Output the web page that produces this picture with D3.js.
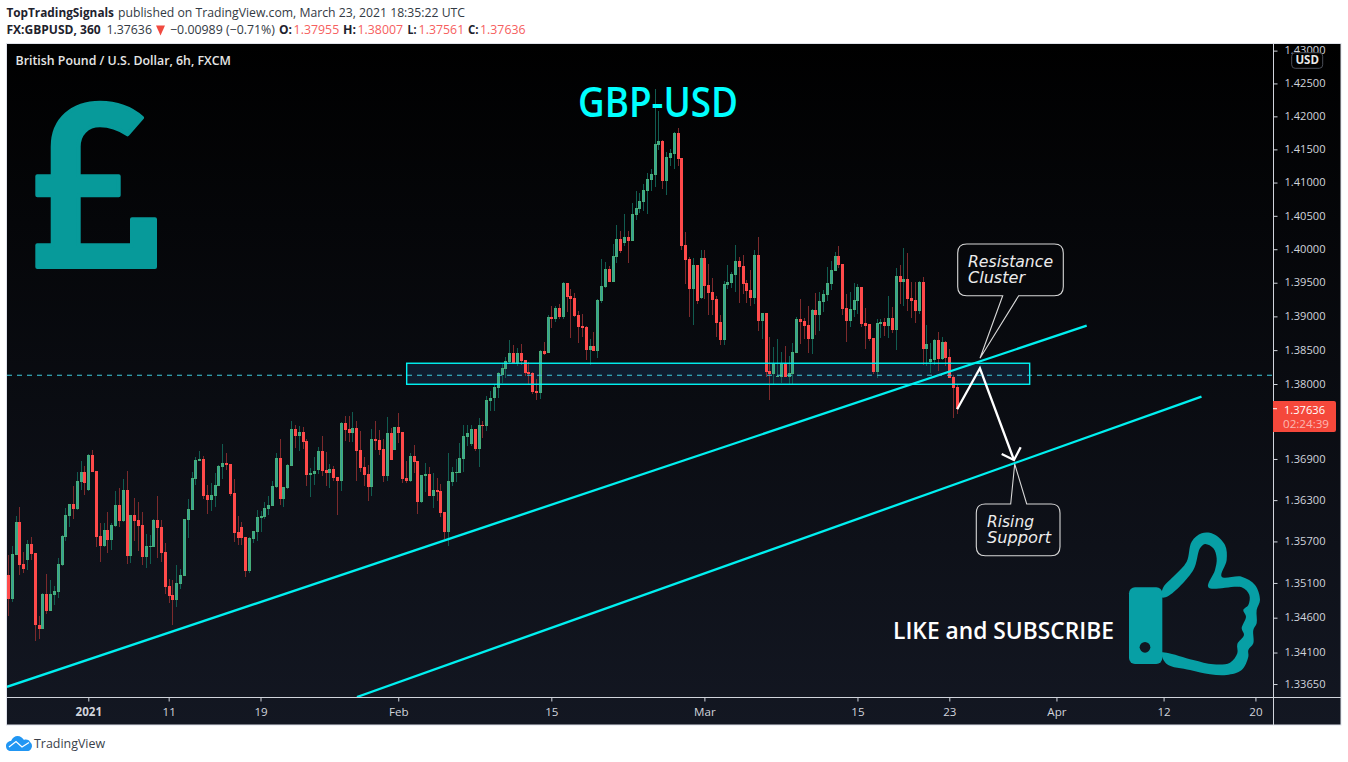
<!DOCTYPE html>
<html><head><meta charset="utf-8">
<script src="https://cdn.jsdelivr.net/npm/d3@7"></script>
<style>html,body{margin:0;padding:0;background:#fff;overflow:hidden}svg{display:block}text{font-family:"Open Sans",sans-serif}</style>
</head><body><div id="c"></div>
<script>
const opens=[1.3521,1.3487,1.3550,1.3598,1.3537,1.3543,1.3566,1.3553,1.3450,1.3444,
1.3494,1.3470,1.3492,1.3497,1.3536,1.3576,1.3607,1.3624,1.3617,1.3656,
1.3671,1.3645,1.3696,1.3672,1.3578,1.3563,1.3587,1.3572,1.3592,1.3623,
1.3600,1.3645,1.3549,1.3608,1.3601,1.3594,1.3547,1.3562,1.3562,1.3601,
1.3591,1.3555,1.3505,1.3492,1.3485,1.3508,1.3520,1.3601,1.3616,1.3661,
1.3687,1.3690,1.3637,1.3630,1.3636,1.3650,1.3678,1.3684,1.3682,1.3640,
1.3584,1.3591,1.3576,1.3527,1.3574,1.3584,1.3604,1.3606,1.3617,1.3621,
1.3649,1.3691,1.3632,1.3648,1.3680,1.3734,1.3724,1.3729,1.3716,1.3667,
1.3668,1.3674,1.3702,1.3674,1.3669,1.3675,1.3664,1.3658,1.3743,1.3734,
1.3728,1.3735,1.3703,1.3678,1.3668,1.3649,1.3719,1.3718,1.3705,1.3665,
1.3728,1.3703,1.3737,1.3729,1.3662,1.3658,1.3694,1.3687,1.3627,1.3665,
1.3668,1.3636,1.3645,1.3643,1.3612,1.3583,1.3656,1.3669,1.3669,1.3690,
1.3722,1.3712,1.3734,1.3705,1.3740,1.3738,1.3775,1.3779,1.3794,1.3814,
1.3822,1.3833,1.3846,1.3830,1.3846,1.3835,1.3818,1.3816,1.3790,1.3787,
1.3849,1.3846,1.3899,1.3896,1.3913,1.3899,1.3950,1.3930,1.3927,1.3902,
1.3886,1.3884,1.3850,1.3856,1.3849,1.3923,1.3944,1.3971,1.3951,1.3988,
1.4015,1.4009,1.4018,1.4012,1.4051,1.4060,1.4071,1.4087,1.4104,1.4111,
1.4157,1.4163,1.4102,1.4137,1.4143,1.4175,1.4137,1.4006,1.3985,1.3941,
1.3977,1.3927,1.3987,1.3947,1.3936,1.3926,1.3892,1.3865,1.3947,1.3950,
1.3962,1.3982,1.3975,1.3950,1.3939,1.3927,1.3991,1.3893,1.3905,1.3819,
1.3815,1.3810,1.3810,1.3830,1.3810,1.3815,1.3846,1.3896,1.3893,1.3887,
1.3867,1.3910,1.3902,1.3922,1.3932,1.3948,1.3968,1.3990,1.3978,1.3913,
1.3893,1.3910,1.3923,1.3944,1.3890,1.3889,1.3868,1.3818,1.3889,1.3892,
1.3886,1.3898,1.3880,1.3960,1.3951,1.3956,1.3927,1.3924,1.3908,1.3951,
1.3852,1.3833,1.3836,1.3865,1.3837,1.3862,1.3840,1.3810,1.37955];
const highs=[1.3550,1.3563,1.3607,1.3620,1.3555,1.3572,1.3576,1.3553,1.3463,1.3495,
1.3523,1.3514,1.3505,1.3546,1.3579,1.3619,1.3624,1.3651,1.3671,1.3687,
1.3680,1.3697,1.3703,1.3672,1.3597,1.3597,1.3613,1.3597,1.3643,1.3648,
1.3661,1.3672,1.3608,1.3633,1.3627,1.3613,1.3581,1.3579,1.3603,1.3636,
1.3601,1.3568,1.3516,1.3514,1.3536,1.3530,1.3603,1.3632,1.3671,1.3693,
1.3701,1.3694,1.3652,1.3655,1.3669,1.3681,1.3712,1.3698,1.3682,1.3661,
1.3607,1.3598,1.3576,1.3576,1.3585,1.3616,1.3614,1.3627,1.3636,1.3658,
1.3698,1.3719,1.3649,1.3682,1.3745,1.3740,1.3738,1.3737,1.3719,1.3677,
1.3693,1.3707,1.3724,1.3700,1.3683,1.3680,1.3664,1.3744,1.3753,1.3753,
1.3759,1.3745,1.3731,1.3693,1.3681,1.3734,1.3745,1.3732,1.3719,1.3751,
1.3735,1.3737,1.3757,1.3729,1.3687,1.3699,1.3710,1.3687,1.3667,1.3684,
1.3678,1.3669,1.3662,1.3653,1.3612,1.3699,1.3678,1.3690,1.3713,1.3740,
1.3740,1.3740,1.3734,1.3750,1.3745,1.3783,1.3789,1.3799,1.3817,1.3829,
1.3840,1.3865,1.3858,1.3853,1.3859,1.3835,1.3833,1.3818,1.3807,1.3850,
1.3862,1.3902,1.3915,1.3916,1.3918,1.3951,1.3950,1.3941,1.3935,1.3908,
1.3904,1.3886,1.3867,1.3877,1.3926,1.3985,1.3981,1.3975,1.4008,1.4036,
1.4027,1.4053,1.4027,1.4069,1.4087,1.4084,1.4098,1.4114,1.4120,1.4241,
1.4208,1.4164,1.4146,1.4151,1.4176,1.4182,1.4137,1.4026,1.3988,1.3987,
1.3977,1.3999,1.3999,1.3978,1.3957,1.3930,1.3902,1.3953,1.3977,1.3966,
1.4006,1.3988,1.3991,1.3954,1.3969,1.3999,1.4018,1.3905,1.3905,1.3870,
1.3855,1.3867,1.3847,1.3856,1.3841,1.3861,1.3899,1.3926,1.3898,1.3916,
1.3911,1.3935,1.3936,1.3939,1.3974,1.3983,1.3996,1.4005,1.3978,1.3933,
1.3936,1.3950,1.3948,1.3944,1.3913,1.3889,1.3868,1.3896,1.3896,1.3898,
1.3930,1.3914,1.3972,1.3977,1.4002,1.3994,1.3951,1.3951,1.3953,1.3959,
1.3887,1.3861,1.3867,1.3877,1.3870,1.3864,1.3852,1.3813,1.38007];
const lows=[1.3463,1.3482,1.3550,1.3521,1.3524,1.3529,1.3543,1.3427,1.3430,1.3444,
1.3466,1.3469,1.3478,1.3489,1.3534,1.3571,1.3591,1.3603,1.3616,1.3645,
1.3637,1.3643,1.3671,1.3562,1.3540,1.3562,1.3553,1.3558,1.3591,1.3591,
1.3598,1.3537,1.3539,1.3571,1.3556,1.3536,1.3531,1.3537,1.3562,1.3546,
1.3540,1.3494,1.3481,1.3449,1.3476,1.3501,1.3520,1.3575,1.3616,1.3652,
1.3687,1.3632,1.3610,1.3614,1.3620,1.3650,1.3661,1.3674,1.3636,1.3569,
1.3565,1.3565,1.3518,1.3524,1.3568,1.3571,1.3584,1.3603,1.3608,1.3621,
1.3648,1.3623,1.3620,1.3646,1.3680,1.3706,1.3702,1.3705,1.3650,1.3634,
1.3652,1.3668,1.3665,1.3650,1.3648,1.3658,1.3608,1.3643,1.3716,1.3715,
1.3715,1.3658,1.3671,1.3650,1.3629,1.3636,1.3703,1.3696,1.3656,1.3658,
1.3688,1.3703,1.3713,1.3655,1.3655,1.3656,1.3669,1.3610,1.3626,1.3642,
1.3636,1.3618,1.3629,1.3605,1.3573,1.3564,1.3650,1.3656,1.3669,1.3671,
1.3709,1.3709,1.3702,1.3678,1.3721,1.3731,1.3760,1.3760,1.3780,1.3801,
1.3809,1.3830,1.3830,1.3827,1.3828,1.3812,1.3799,1.3785,1.3776,1.3778,
1.3843,1.3846,1.3883,1.3892,1.3896,1.3896,1.3907,1.3868,1.3899,1.3861,
1.3870,1.3836,1.3828,1.3849,1.3838,1.3920,1.3942,1.3951,1.3951,1.3980,
1.3994,1.4005,1.3980,1.4012,1.4044,1.4054,1.4057,1.4053,1.4087,1.4093,
1.4149,1.4090,1.4081,1.4125,1.4120,1.4125,1.3999,1.3948,1.3899,1.3887,
1.3918,1.3926,1.3926,1.3902,1.3902,1.3870,1.3858,1.3858,1.3941,1.3942,
1.3936,1.3920,1.3933,1.3920,1.3916,1.3918,1.3878,1.3867,1.3810,1.3776,
1.3800,1.3810,1.3802,1.3810,1.3800,1.3800,1.3846,1.3859,1.3867,1.3846,
1.3844,1.3873,1.3878,1.3907,1.3923,1.3939,1.3968,1.3972,1.3902,1.3862,
1.3884,1.3899,1.3904,1.3884,1.3852,1.3864,1.3815,1.3809,1.3868,1.3871,
1.3868,1.3875,1.3850,1.3919,1.3916,1.3908,1.3898,1.3890,1.3904,1.3828,
1.3827,1.3816,1.3828,1.3819,1.3836,1.3827,1.3809,1.3750,1.37561];
const closes=[1.3487,1.3552,1.3598,1.3536,1.3530,1.3566,1.3552,1.3449,1.3444,1.3494,
1.3470,1.3494,1.3498,1.3537,1.3578,1.3608,1.3624,1.3617,1.3658,1.3671,
1.3655,1.3696,1.3671,1.3576,1.3563,1.3587,1.3572,1.3594,1.3623,1.3600,
1.3645,1.3549,1.3608,1.3600,1.3592,1.3547,1.3563,1.3563,1.3601,1.3590,
1.3553,1.3504,1.3491,1.3485,1.3510,1.3521,1.3603,1.3617,1.3662,1.3688,
1.3690,1.3636,1.3630,1.3637,1.3652,1.3680,1.3684,1.3681,1.3639,1.3582,
1.3575,1.3575,1.3527,1.3575,1.3585,1.3606,1.3607,1.3619,1.3623,1.3651,
1.3691,1.3632,1.3649,1.3681,1.3734,1.3724,1.3729,1.3715,1.3667,1.3669,
1.3672,1.3702,1.3672,1.3669,1.3675,1.3662,1.3658,1.3743,1.3732,1.3728,
1.3735,1.3702,1.3677,1.3667,1.3649,1.3719,1.3716,1.3703,1.3665,1.3728,
1.3688,1.3737,1.3728,1.3661,1.3658,1.3694,1.3686,1.3627,1.3667,1.3668,
1.3636,1.3645,1.3642,1.3611,1.3583,1.3658,1.3671,1.3671,1.3691,1.3724,
1.3728,1.3734,1.3705,1.3740,1.3738,1.3776,1.3780,1.3795,1.3816,1.3823,
1.3834,1.3846,1.3831,1.3846,1.3834,1.3816,1.3815,1.3788,1.3787,1.3849,
1.3844,1.3899,1.3896,1.3913,1.3899,1.3950,1.3929,1.3926,1.3901,1.3884,
1.3883,1.3850,1.3856,1.3849,1.3924,1.3945,1.3971,1.3951,1.3990,1.4015,
1.3997,1.4018,1.4012,1.4053,1.4062,1.4072,1.4089,1.4105,1.4113,1.4158,
1.4163,1.4102,1.4138,1.4145,1.4175,1.4135,1.4005,1.3984,1.3941,1.3977,
1.3923,1.3987,1.3945,1.3935,1.3924,1.3890,1.3865,1.3948,1.3951,1.3963,
1.3982,1.3974,1.3948,1.3938,1.3927,1.3991,1.3893,1.3905,1.3818,1.3815,
1.3830,1.3812,1.3830,1.3810,1.3816,1.3847,1.3896,1.3892,1.3886,1.3867,
1.3910,1.3902,1.3923,1.3933,1.3950,1.3969,1.3990,1.3977,1.3911,1.3893,
1.3911,1.3924,1.3944,1.3889,1.3886,1.3867,1.3818,1.3890,1.3892,1.3886,
1.3898,1.3880,1.3960,1.3951,1.3956,1.3926,1.3923,1.3908,1.3951,1.3852,
1.3859,1.3837,1.3865,1.3837,1.3862,1.3839,1.3809,1.3794,1.37636];

const priceTicks=[1.43,1.425,1.42,1.415,1.41,1.405,1.40,1.395,1.39,1.385,1.38,1.369,1.363,1.357,1.351,1.346,1.341,1.3365];
const dateTickIndex=[21,42,66,102,142,182,222,246,274,302,326];
const dateTickLabels=["2021","11","19","Feb","15","Mar","15","23","Apr","12","20"];
const boldDateLabels=["2021"];
const lastPrice=1.37636, countdown="02:24:39", dashedPrice=1.38129;
const zoneIndex=[104.2,267], zonePrice=[1.38306,1.37996];
const trendUpperIndex=[-0.26,281.9], trendUpperPrice=[1.3361,1.38862];
const trendLowerIndex=[91.2,311.9], trendLowerPrice=[1.33465,1.37814];
const pathIndex=[248.05,254,262.9], pathPrice=[1.37629,1.38232,1.36885];

const W=1348,H=762,L=7,T=44,PR=1273,PB=697,R=1341,B=725;
const svg=d3.select("#c").append("svg").attr("width",W).attr("height",H);
const defs=svg.append("defs");
const g=defs.append("linearGradient").attr("id","bg").attr("x1",0).attr("x2",0).attr("y1",0).attr("y2",1);
g.append("stop").attr("offset",0).attr("stop-color","#000000");
g.append("stop").attr("offset",1).attr("stop-color","#131722");
defs.append("clipPath").attr("id","clip").append("rect").attr("x",L).attr("y",T).attr("width",PR-L).attr("height",PB-T);

svg.append("rect").attr("x",6.5).attr("y",43.5).attr("width",R-6.5).attr("height",B-43.5).attr("fill","url(#bg)").attr("stroke","#e0e3eb");

const x=d3.scaleLinear().domain([21,246]).range([88.3,949.3]);
const y=d3.scaleLog().domain([1.33465,1.43101]).range([PB,T]);

const plot=svg.append("g").attr("clip-path","url(#clip)");
const zx=x(zoneIndex[0]),zy=y(zonePrice[0]),zw=x(zoneIndex[1])-x(zoneIndex[0]),zh=y(zonePrice[1])-y(zonePrice[0]);
plot.append("rect").attr("x",zx).attr("y",zy).attr("width",zw).attr("height",zh).attr("fill","#3e94ff").attr("fill-opacity",0.13);
const idx=d3.range(opens.length);
const up=i=>closes[i]>=opens[i];
const cx=i=>Math.round(x(i));
// wicks
plot.append("g").selectAll("rect").data(idx).join("rect")
 .attr("x",cx).attr("width",1)
 .attr("y",i=>Math.round(y(highs[i]))).attr("height",i=>Math.max(1,Math.round(y(lows[i]))-Math.round(y(highs[i]))))
 .attr("fill",i=>up(i)?"#115c50":"#7c2a2c");
// bodies
const bt=i=>Math.round(y(Math.max(opens[i],closes[i]))), bb=i=>Math.round(y(Math.min(opens[i],closes[i])));
plot.append("g").selectAll("rect").data(idx).join("rect")
 .attr("x",i=>cx(i)-1).attr("width",3)
 .attr("y",bt).attr("height",i=>Math.max(1,bb(i)-bt(i)))
 .attr("fill",i=>up(i)?"#46ad78":"#ff4a4a");
plot.append("g").selectAll("rect").data(idx.filter(i=>up(i)&&bb(i)-bt(i)>2)).join("rect")
 .attr("x",cx).attr("width",1)
 .attr("y",i=>bt(i)+1).attr("height",i=>bb(i)-bt(i)-2)
 .attr("fill","#35a09a");

// dashed last-price line
svg.append("line").attr("x1",L).attr("x2",PR).attr("y1",y(dashedPrice)).attr("y2",y(dashedPrice))
 .attr("stroke","#3fcfe0").attr("stroke-width",1).attr("stroke-dasharray","5 5");
// zone border
plot.append("rect").attr("x",zx).attr("y",zy).attr("width",zw).attr("height",zh).attr("fill","none").attr("stroke","#00f5f5").attr("stroke-width",1.4);
// trend lines
[[trendUpperIndex,trendUpperPrice],[trendLowerIndex,trendLowerPrice]].forEach(([a,b])=>{
 plot.append("line").attr("x1",x(a[0])).attr("x2",x(a[1])).attr("y1",y(b[0])).attr("y2",y(b[1]))
  .attr("stroke","#00f0f0").attr("stroke-width",2.3);
});
// white path with arrow
const lineGen=d3.line().x(d=>x(d[0])).y(d=>y(d[1]));
plot.append("path").attr("d",lineGen(d3.zip(pathIndex,pathPrice))).attr("fill","none").attr("stroke","#fff").attr("stroke-width",2.3).attr("stroke-linejoin","miter");
const ex=x(pathIndex[2]),ey=y(pathPrice[2]);
plot.append("path").attr("d",`M${ex-12.3},${ey-6}L${ex},${ey}L${ex+6.7},${ey-12.7}`).attr("fill","none").attr("stroke","#fff").attr("stroke-width",2.3);

// callouts
function callout(px,py,w,h,r,tail,lines,tx){
 let d=`M${px+r},${py}`;
 if(tail.side==="top") d+=`L${tail.a},${py}L${tail.x},${tail.y}L${tail.b},${py}`;
 d+=`L${px+w-r},${py}Q${px+w},${py} ${px+w},${py+r}L${px+w},${py+h-r}Q${px+w},${py+h} ${px+w-r},${py+h}`;
 if(tail.side==="bottom") d+=`L${tail.b},${py+h}L${tail.x},${tail.y}L${tail.a},${py+h}`;
 d+=`L${px+r},${py+h}Q${px},${py+h} ${px},${py+h-r}L${px},${py+r}Q${px},${py} ${px+r},${py}Z`;
 svg.append("path").attr("d",d).attr("fill","none").attr("stroke","#d8d8d8").attr("stroke-width",1.1);
 lines.forEach(l=>svg.append("text").attr("x",tx).attr("y",l.y).text(l.t).attr("fill","#ececec")
   .attr("font-size",16).attr("font-style","italic").style("font-family","'DejaVu Sans'").attr("textLength",l.w).attr("lengthAdjust","spacingAndGlyphs"));
}
callout(957.7,244,105.6,51.7,9,{side:"bottom",a:1002.7,b:1018.7,x:980,y:358.3},[{t:"Resistance",y:267,w:85},{t:"Cluster",y:283,w:57}],968);
callout(976.3,504,83.7,51.7,9,{side:"top",a:1010.7,b:1026.7,x:1014.7,y:464},[{t:"Rising",y:527,w:47},{t:"Support",y:542.7,w:64}],987);

// pound sign
svg.append("path").attr("fill","#079a9a").attr("stroke","#079a9a").attr("stroke-width",4).attr("stroke-linejoin","round")
 .attr("d","M37.3,245.3H52.7V195.3H37.3V176.3H52.7V146.7C52.7,119 73,102.7 100,102.7C118,102.7 131,108 142,117.7L127.6,134.3C118,128 110,125.3 100,125.3C87,125.3 78.7,134 78.7,146.7V176.3H118.7V195.3H78.7V245.3H132V219.3H155V267H37.3Z");
// thumb (drawn in the coordinates of its own icon box)
const thumbOuter=[[850,202],[885,165],[920,125],[935,65],[965,40],[1000,42],[1035,75],[1040,120],[1025,170],[1085,170],[1125,195],[1140,240],[1130,270],[1130,310],[1120,330],[1120,370],[1105,390],[1105,410],[1085,450],[1040,465],[990,463],[930,450],[860,432]];
const thumbInner=[[845,398],[860,398],[940,420],[1000,433],[1050,428],[1072,400],[1072,372],[1092,345],[1085,325],[1098,290],[1090,270],[1105,255],[1108,225],[1085,202],[985,202],[1005,150],[1010,115],[1000,85],[975,72],[960,85],[940,150],[865,228],[845,232]];
const thumb=svg.append("g").attr("transform","translate(880,520) scale(0.33333)");
thumb.append("path").attr("d",d3.line().curve(d3.curveCatmullRomClosed.alpha(0.5))(thumbOuter.concat(thumbInner))).attr("fill","#079fa5");
thumb.append("rect").attr("x",747).attr("y",202).attr("width",100).attr("height",230).attr("rx",18).attr("fill","#079fa5");
thumb.append("circle").attr("cx",795).attr("cy",382).attr("r",16).attr("fill","#111621");

// axis lines
svg.append("line").attr("x1",PR+.5).attr("x2",PR+.5).attr("y1",T).attr("y2",B).attr("stroke","#d1d4dc");
svg.append("line").attr("x1",L).attr("x2",R).attr("y1",PB+.5).attr("y2",PB+.5).attr("stroke","#d1d4dc");

// price axis
const yAxis=d3.axisRight(y).tickValues(priceTicks).tickFormat(d3.format(".5f")).tickSize(4).tickPadding(7);
const ya=svg.append("g").attr("transform",`translate(${PR+.5},0)`).call(yAxis);
ya.select(".domain").remove();
ya.selectAll("line").attr("stroke","#d1d4dc");
ya.selectAll("text").attr("fill","#d1d4dc").attr("dy","0.28em").attr("font-size",11.6).style("font-family","'Open Sans'").attr("textLength",41).attr("lengthAdjust","spacingAndGlyphs");

// date axis
const xAxis=d3.axisBottom(x).tickValues(dateTickIndex).tickFormat((d,i)=>dateTickLabels[i]).tickSize(4).tickPadding(6);
const xa=svg.append("g").attr("transform",`translate(0,${PB+.5})`).call(xAxis);
xa.select(".domain").remove();
xa.selectAll("line").attr("stroke","#d1d4dc");
xa.selectAll("text").attr("fill","#d1d4dc").attr("font-size",11.6).style("font-family","'Open Sans'")
 .attr("font-weight",(d,i)=>boldDateLabels.includes(dateTickLabels[i])?700:400);

// USD badge
svg.append("rect").attr("x",1291.7).attr("y",52.7).attr("width",31).attr("height",15.6).attr("rx",3.5).attr("fill","#000").attr("stroke","#4a4e58");
svg.append("text").attr("x",1307.2).attr("y",64.4).attr("text-anchor","middle").text("USD").attr("fill","#e8e8e8").attr("font-size",11.5).attr("font-weight",700);

// price tag
svg.append("path").attr("d",`M${PR},401H1334Q1336,401 1336,403V430Q1336,432 1334,432H${PR}Z`).attr("fill","#f5483b");
svg.append("line").attr("x1",PR).attr("x2",PR+4).attr("y1",y(lastPrice)).attr("y2",y(lastPrice)).attr("stroke","#fff");
svg.append("text").attr("x",1284).attr("y",414).text(d3.format(".5f")(lastPrice)).attr("fill","#fff").attr("font-size",11.6).attr("textLength",41).attr("lengthAdjust","spacingAndGlyphs");
svg.append("text").attr("x",1283).attr("y",428).text(countdown).attr("fill","#ffffff").attr("fill-opacity",.62).attr("font-size",11.6).attr("textLength",46).attr("lengthAdjust","spacingAndGlyphs");

// chart texts
function txt(s,px,py,size,fill,w,weight){
 return svg.append("text").attr("x",px).attr("y",py).text(s).attr("font-size",size).attr("fill",fill).attr("font-weight",weight||400)
  .attr("textLength",w).attr("lengthAdjust","spacingAndGlyphs");
}
txt("British Pound / U.S. Dollar, 6h, FXCM",15.5,64.5,12.8,"#e6e6e6",215.5,600);
txt("GBP-USD",578,117,41,"#00ffff",160,600);
txt("LIKE and SUBSCRIBE",893,638.8,23,"#ffffff",221,600);
// header
const DK="#333a44",RD="#f66060";
txt("TopTradingSignals",6.4,17,12.8,"#1e222d",107.6,700);
txt("published on TradingView.com, March 23, 2021 18:35:22 UTC",118,17,12.8,"#333a44",347);
txt("FX:GBPUSD, 360",6.4,34,12.8,"#1e222d",94.3,700);
txt("1.37636",106.4,34,12.8,DK,45.6);
svg.append("path").attr("d","M156,25.5H165L160.5,35.5Z").attr("fill","#f04a40");
txt("−0.00989 (−0.71%)",170,34,12.8,DK,105);
[["O:",279,13,"1.37955",293.6],["H:",343,13,"1.38007",357.5],["L:",407.5,9,"1.37561",418.6],["C:",468,10.6,"1.37636",480]].forEach(r=>{
 txt(r[0],r[1],34,12.8,"#1e222d",r[2],700);
 txt(r[3],r[4],34,12.8,RD,45.6);
});
// logo
svg.append("path").attr("fill","#2196f3").attr("d","M6,746C6,742.5 9,741 11,741C12.5,737.5 15,736 17.5,736C20.5,736 22.5,738 24,740C25.5,739 29,739.5 30,742C32,743.5 32.5,746 31.5,748C30.5,750.5 29,751 27,751H11C8,751 6,749 6,746Z");
svg.append("path").attr("fill","none").attr("stroke","#fff").attr("stroke-width",1.3).attr("d","M9,747L16,741.5L22,747L29,742.5");
txt("TradingView",34,748,12.4,"#3a3f4a",71);
</script></body></html>
